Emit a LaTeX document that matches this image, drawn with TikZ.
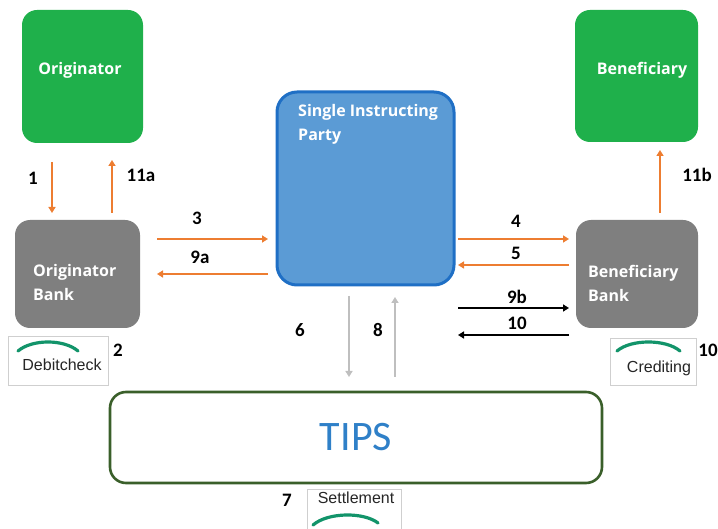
\documentclass[tikz,border=0pt]{standalone}
\usepackage{fontspec}
\setmainfont{Carlito}
\newfontfamily\boxfont{Open Sans}
\newfontfamily\smallfont{Liberation Sans}
\usetikzlibrary{arrows.meta}
\definecolor{grn}{HTML}{1FB04B}
\definecolor{gry}{HTML}{7F7F7F}
\definecolor{blufill}{HTML}{5B9BD5}
\definecolor{bluedge}{HTML}{1F6FC5}
\definecolor{org}{HTML}{ED7D31}
\definecolor{tipsgreen}{HTML}{3A5F2A}
\definecolor{tipsblue}{HTML}{2F80C8}
\definecolor{arcgreen}{HTML}{12946A}
\definecolor{lightarr}{HTML}{BFBFBF}
\definecolor{boxline}{HTML}{CFCFCF}
\tikzset{
  party/.style={rectangle, rounded corners=15pt, fill=grn, draw=none},
  bank/.style={rectangle, rounded corners=15pt, fill=gry, draw=none},
  boxtxt/.style={text=white, font=\boxfont\bfseries\fontsize{16}{24}\selectfont, align=left, inner sep=0pt},
  num/.style={font=\bfseries\fontsize{19}{20}\selectfont, inner sep=0pt},
  oarr/.style={draw=org, line width=2.2pt, -{Triangle[length=6pt,width=7pt]}},
  karr/.style={draw=black, line width=1.6pt, -{Triangle[length=6pt,width=7pt]}},
  garr/.style={draw=lightarr, line width=2.4pt, -{Triangle[length=6pt,width=7pt]}},
  stepbox/.style={rectangle, draw=boxline, line width=0.8pt, fill=white},
  smalltxt/.style={font=\smallfont\fontsize{16}{18}\selectfont, text=black!85, inner sep=0pt},
  turn/.style={draw=arcgreen, line width=3.2pt, line cap=round}
}
\begin{document}
\begin{tikzpicture}[x=1pt,y=-1pt]
\useasboundingbox (0,0) rectangle (718,529);
% parties
\node[party, minimum width=121pt, minimum height=133pt] (orig) at (82.5,76.5) {};
\node[boxtxt] at (80,70) {Originator};
\node[party, minimum width=123pt, minimum height=132pt] (bene) at (636.5,76) {};
\node[boxtxt] at (642,70) {Beneficiary};
% banks
\node[bank, minimum width=125pt, minimum height=108pt] (obank) at (77.5,274) {};
\node[boxtxt, anchor=west] at (33,283) {Originator\\Bank};
\node[bank, minimum width=122pt, minimum height=108pt] (bbank) at (637,274) {};
\node[boxtxt, anchor=west] at (588,283) {Beneficiary\\Bank};
% single instructing party
\node[rectangle, rounded corners=20pt, fill=blufill, draw=bluedge, line width=3pt,
      minimum width=177pt, minimum height=193pt] (sip) at (365.5,188.5) {};
\node[boxtxt, anchor=north west] at (298,104) {Single Instructing\\Party};
% TIPS
\node[rectangle, rounded corners=16pt, draw=tipsgreen, line width=2.6pt, fill=white,
      minimum width=492pt, minimum height=91pt, text=tipsblue,
      font=\fontsize{42}{46}\selectfont] (tips) at (356,437.5) {TIPS};
% small step boxes
\node[stepbox, minimum width=100pt, minimum height=49pt] (debit) at (58,360.5) {};
\draw[turn] (18,351) .. controls (32,339) and (64,339) .. (78,351);
\node[smalltxt] at (62,365) {Debitcheck};
\node[num] at (118,350) {2};
\node[stepbox, minimum width=86pt, minimum height=47pt] (cred) at (653,361.5) {};
\draw[turn] (617,351) .. controls (631,339) and (666,339) .. (680,351);
\node[smalltxt] at (659,368) {Crediting};
\node[num] at (708,350) {10};
\node[stepbox, minimum width=94pt, minimum height=40pt] (settle) at (354,509.5) {};
\node[smalltxt] at (356,498) {Settlement};
\draw[turn] (313,525) .. controls (328,512) and (364,512) .. (378,523);
\node[num] at (287,500) {7};
% arrow anchor coordinates
\coordinate (a1s) at (52,162);  \coordinate (a1e) at (52,213);
\coordinate (a11as) at (112,213); \coordinate (a11ae) at (112,160);
\coordinate (a3s) at (157,239); \coordinate (a3e) at (268,239);
\coordinate (a9as) at (268,274); \coordinate (a9ae) at (157,274);
\coordinate (a4s) at (458,239); \coordinate (a4e) at (569,239);
\coordinate (a5s) at (569,265); \coordinate (a5e) at (458,265);
\coordinate (a9bs) at (458,308); \coordinate (a9be) at (569,308);
\coordinate (a10s) at (569,335); \coordinate (a10e) at (458,335);
\coordinate (a11bs) at (660,213); \coordinate (a11be) at (660,150);
\coordinate (a6s) at (349,296); \coordinate (a6e) at (349,377);
\coordinate (a8s) at (395,377); \coordinate (a8e) at (395,297);
% arrows
\draw[oarr] (a1s) -- (a1e);
\node[num] at (33,178) {1};
\draw[oarr] (a11as) -- (a11ae);
\node[num] at (141,175) {11a};
\draw[oarr] (a3s) -- (a3e);
\node[num] at (197,218) {3};
\draw[oarr] (a9as) -- (a9ae);
\node[num] at (200,257) {9a};
\draw[oarr] (a4s) -- (a4e);
\node[num] at (516,221) {4};
\draw[oarr] (a5s) -- (a5e);
\node[num] at (516,253) {5};
\draw[karr] (a9bs) -- (a9be);
\node[num] at (517,297) {9b};
\draw[karr] (a10s) -- (a10e);
\node[num] at (517,323) {10};
\draw[oarr] (a11bs) -- (a11be);
\node[num] at (697,175) {11b};
\draw[garr] (a6s) -- (a6e);
\node[num] at (300,330) {6};
\draw[garr] (a8s) -- (a8e);
\node[num] at (378,330) {8};
\end{tikzpicture}
\end{document}
